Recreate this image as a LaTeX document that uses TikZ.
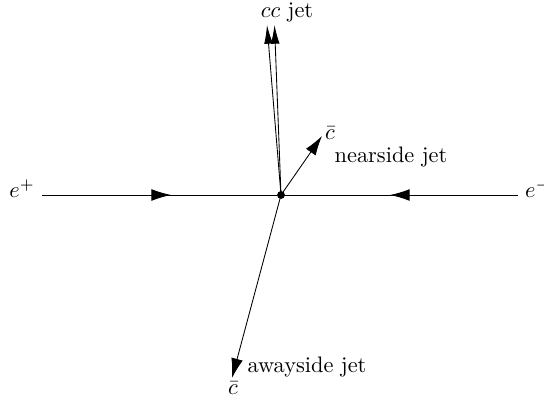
\documentclass[tikz,border=0pt]{standalone}
\usetikzlibrary{arrows.meta,decorations.markings}
\begin{document}
\begin{tikzpicture}[x=0.46pt,y=-0.46pt,
  bighead/.tip={Latex[length=9pt,width=5.4pt]},
  jethead/.tip={Latex[length=8.6pt,width=4pt]},
  beam/.style={postaction={decorate},decoration={markings,mark=at position 0.54 with {\arrow{bighead}}}},
  lbl/.style={inner sep=0pt,scale=1.03}]
\useasboundingbox (0,0) rectangle (544,402);
\coordinate (O) at (281,195);
\coordinate (L) at (42,195);
\coordinate (R) at (518,195);
\coordinate (C1) at (267,25);
\coordinate (C2) at (274.5,25);
\coordinate (N) at (322,136);
\coordinate (A) at (232,378);
\node[lbl] (ep) at (22,189) {$e^+$};
\node[lbl] (em) at (538,189) {$e^-$};
\node[lbl] (cc) at (287,12) {$cc$ jet};
\node[lbl] (cbn) at (330,133) {$\bar c$};
\node[lbl] (ns) at (391,157) {nearside jet};
\node[lbl] (as) at (307,367) {awayside jet};
\node[lbl] (cba) at (233,388) {$\bar c$};
\draw[beam] (L) -- (O);
\draw[beam] (R) -- (O);
\draw[-jethead] (O) -- (C1);
\draw[-jethead] (O) -- (C2);
\draw[-bighead] (O) -- (N);
\draw[-bighead] (O) -- (A);
\fill (O) circle (1.8pt);
\end{tikzpicture}
\end{document}
